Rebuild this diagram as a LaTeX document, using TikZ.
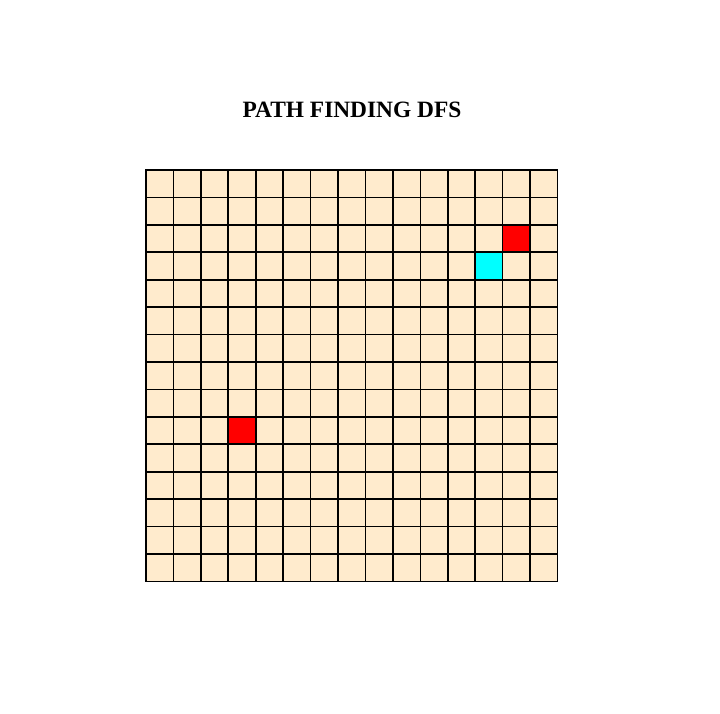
\documentclass[tikz,border=0pt]{standalone}
\usepackage{fontspec}
\setmainfont{Liberation Serif}
\definecolor{cellbg}{HTML}{FFEBCD}
\definecolor{startclr}{HTML}{00FFFF}
\definecolor{wallclr}{HTML}{FF0000}
\begin{document}
\begin{tikzpicture}[x=1pt, y=1pt,
  gridcell/.style = {draw=black, line width=1.6pt, fill=cellbg},
  wallcell/.style = {draw=black, line width=1.6pt, fill=wallclr},
  startcell/.style = {draw=black, line width=1.6pt, fill=startclr},
  titlelbl/.style = {font=\bfseries\fontsize{23.4}{28}\selectfont}
]
  \useasboundingbox (0,0) rectangle (720,714);
  % title
  \node[titlelbl] (title) at (352,604) {PATH FINDING DFS};
  % 15 x 15 grid, origin at upper left corner
  \begin{scope}[shift={(146,544)}]
    \foreach \r in {0,...,14} {
      \foreach \c in {0,...,14} {
        \draw[gridcell] (\c*27.43,-\r*27.43) rectangle ++(27.43,-27.43);
      }
    }
    % marked cells
    \draw[wallcell] (13*27.43,-2*27.43) rectangle ++(27.43,-27.43);
    \draw[wallcell] (3*27.43,-9*27.43) rectangle ++(27.43,-27.43);
    \draw[startcell] (12*27.43,-3*27.43) rectangle ++(27.43,-27.43);
  \end{scope}
\end{tikzpicture}
\end{document}
